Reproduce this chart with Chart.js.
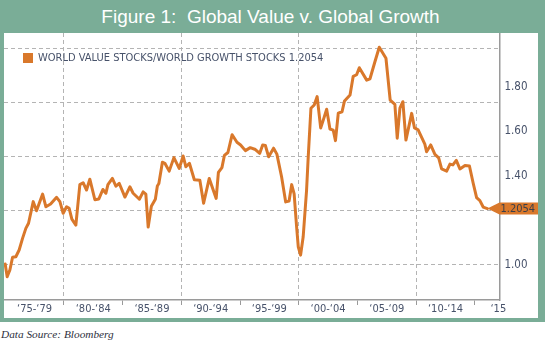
<!DOCTYPE html>
<html lang="en">
<head>
<meta charset="UTF-8">
<title>Figure 1: Global Value v. Global Growth</title>
<script src="https://cdn.jsdelivr.net/npm/chart.js"></script>
<style>
  html, body { margin: 0; padding: 0; background: #fff; }
  body { width: 545px; height: 348px; position: relative; overflow: hidden; font-family: 'Liberation Sans', Arial, sans-serif; }
  .frame { position: absolute; left: 0; top: 0; width: 545px; height: 322px; background: #7aad97; }
  .title { position: absolute; left: 0; top: 0; width: 541px; height: 33px; line-height: 33px; text-align: center; color: #fff; font-size: 19px; }
  .plot { position: absolute; left: 4px; top: 33px; width: 534px; height: 285px; background: #fff; }
  .legend { position: absolute; left: 19px; top: 20px; height: 10px; white-space: nowrap; }
  .legend .swatch { position: absolute; left: 0; top: 0; width: 10px; height: 10px; background: #d9782b; }
  .legend .text { position: absolute; left: 15px; top: -3px; font-family: 'DejaVu Sans Condensed', 'Liberation Sans Narrow', sans-serif; font-size: 11px; line-height: 16px; color: #47526a; }
  .source { position: absolute; left: 1px; top: 328px; font-family: 'Liberation Serif', 'DejaVu Serif', serif; font-style: italic; font-size: 11.3px; color: #2e3040; }
</style>
</head>
<body>
  <div class="frame">
    <div class="title">Figure 1:&nbsp; Global Value v. Global Growth</div>
    <div class="plot">
      <canvas id="chart" width="534" height="285"></canvas>
      <div class="legend"><span class="swatch"></span><span class="text" id="legend-text"></span></div>
    </div>
  </div>
  <div class="source">Data Source: Bloomberg</div>

<script>
  // Ratio valeur / croissance
  const years = [
    1975.00, 1975.17, 1975.40, 1975.63, 1975.91, 1976.19, 1976.48, 1976.76, 1976.99, 1977.39,
    1977.67, 1978.19, 1978.47, 1978.87, 1979.38, 1979.66, 1979.94, 1980.23, 1980.45, 1980.68,
    1981.02, 1981.36, 1981.64, 1981.93, 1982.21, 1982.64, 1982.98, 1983.32, 1983.58, 1983.75,
    1984.13, 1984.43, 1984.71, 1985.20, 1985.62, 1985.90, 1986.43, 1986.75, 1986.98, 1987.18,
    1987.45, 1987.79, 1987.96, 1988.09, 1988.39, 1988.60, 1988.97, 1989.37, 1989.82, 1990.16,
    1990.39, 1990.69, 1991.11, 1991.58, 1991.90, 1992.38, 1992.97, 1993.16, 1993.46, 1993.67,
    1993.97, 1994.33, 1994.74, 1995.05, 1995.46, 1995.87, 1996.31, 1996.68, 1996.93, 1997.16,
    1997.44, 1997.86, 1998.14, 1998.54, 1998.89, 1999.18, 1999.40, 1999.61, 1999.82, 1999.96,
    2000.16, 2000.38, 2000.67, 2000.81, 2001.04, 2001.32, 2001.57, 2001.87, 2002.09, 2002.38,
    2002.66, 2002.94, 2003.13, 2003.37, 2003.69, 2003.90, 2004.37, 2004.64, 2004.93, 2005.16,
    2005.79, 2006.07, 2006.49, 2006.86, 2007.43, 2007.79, 2008.19, 2008.39, 2008.62, 2008.87,
    2009.13, 2009.62, 2009.86, 2010.17, 2010.74, 2010.89, 2011.24, 2011.60, 2011.92, 2012.17,
    2012.60, 2012.88, 2013.13, 2013.42, 2013.73, 2014.16, 2014.54, 2014.86, 2015.15, 2015.43,
    2015.71, 2016.07
  ];
  const ratio = [
    1.000, 0.953, 0.978, 1.025, 1.027, 1.052, 1.095, 1.132, 1.151, 1.231,
    1.197, 1.259, 1.212, 1.222, 1.247, 1.231, 1.188, 1.212, 1.206, 1.166,
    1.144, 1.294, 1.301, 1.274, 1.314, 1.238, 1.241, 1.276, 1.262, 1.294,
    1.317, 1.288, 1.299, 1.248, 1.286, 1.262, 1.240, 1.267, 1.259, 1.137,
    1.214, 1.240, 1.289, 1.298, 1.377, 1.373, 1.344, 1.394, 1.354, 1.400,
    1.360, 1.373, 1.312, 1.310, 1.225, 1.317, 1.243, 1.339, 1.357, 1.402,
    1.413, 1.479, 1.451, 1.441, 1.420, 1.431, 1.424, 1.410, 1.441, 1.439,
    1.397, 1.429, 1.407, 1.323, 1.230, 1.233, 1.294, 1.260, 1.138, 1.064,
    1.033, 1.101, 1.274, 1.397, 1.577, 1.589, 1.620, 1.504, 1.533, 1.573,
    1.500, 1.496, 1.457, 1.559, 1.564, 1.604, 1.626, 1.695, 1.701, 1.727,
    1.681, 1.686, 1.749, 1.803, 1.762, 1.607, 1.591, 1.466, 1.577, 1.601,
    1.459, 1.558, 1.504, 1.497, 1.444, 1.416, 1.441, 1.406, 1.393, 1.352,
    1.344, 1.370, 1.367, 1.384, 1.352, 1.365, 1.363, 1.299, 1.246, 1.235,
    1.211, 1.2054
  ];

  // Axe des x : étiquettes centrées sur chaque période de 5 ans
  const xLabelYears = [1977.5, 1982.5, 1987.5, 1992.5, 1997.5, 2002.5, 2007.5, 2012.5, 2017];
  const xLabels = ['\u201875-\u201879', '\u201880-\u201884', '\u201885-\u201889', '\u201890-\u201894',
    '\u201895-\u201899', '\u201800-\u201804', '\u201805-\u201809', '\u201810-\u201814', '\u201815'];
  const xGridYears = [1980, 1990, 2000, 2010];
  const xTickYears = [1985, 1995, 2005, 2015];

  // Axe des y : lignes de grille et étiquettes (décalées comme sur l'original)
  const yGridValues = [1.0, 1.2, 1.4, 1.6, 1.8];
  const yLabelValues = [1.0, 1.4, 1.6, 1.8];

  const seriesName = 'WORLD VALUE STOCKS/WORLD GROWTH STOCKS';

  const ORANGE = '#d9782b';
  const GRID = '#b4b4b4';
  const AXIS = '#9a9a9a';
  const TEXT = '#47526a';
  const FONT = "'DejaVu Sans Condensed', 'Liberation Sans Narrow', sans-serif";

  const lastValue = ratio[ratio.length - 1];
  document.getElementById('legend-text').textContent = seriesName + ' ' + lastValue.toFixed(4);

  // Étiquette de la dernière valeur (flèche orange sur l'axe de droite)
  const lastValueTag = {
    id: 'lastValueTag',
    afterDatasetsDraw(chart) {
      const { ctx, scales } = chart;
      const meta = chart.getDatasetMeta(0);
      const pt = meta.data[meta.data.length - 1];
      const tipX = pt.x;
      const y = scales.y.getPixelForValue(lastValue);
      const boxLeft = chart.chartArea.right;
      const boxRight = chart.width;
      const h = 12;
      ctx.save();
      ctx.fillStyle = ORANGE;
      ctx.beginPath();
      ctx.moveTo(tipX, y);
      ctx.lineTo(boxLeft, y - h / 2);
      ctx.lineTo(boxRight, y - h / 2);
      ctx.lineTo(boxRight, y + h / 2);
      ctx.lineTo(boxLeft, y + h / 2);
      ctx.closePath();
      ctx.fill();
      ctx.fillStyle = '#3a3f4a';
      ctx.font = '11px ' + FONT;
      ctx.textBaseline = 'middle';
      ctx.textAlign = 'left';
      ctx.fillText(lastValue.toFixed(4), boxLeft + 1, y + 0.5);
      ctx.restore();
    }
  };

  new Chart(document.getElementById('chart'), {
    type: 'line',
    data: {
      datasets: [{
        label: seriesName,
        data: years.map((yr, i) => ({ x: yr, y: ratio[i] })),
        borderColor: ORANGE,
        borderWidth: 3,
        pointRadius: 0,
        tension: 0,
        borderJoinStyle: 'round',
        borderCapStyle: 'round',
        yAxisID: 'y'
      }]
    },
    options: {
      responsive: false,
      animation: false,
      layout: { padding: 0 },
      plugins: { legend: { display: false }, tooltip: { enabled: false } },
      scales: {
        x: {
          type: 'linear',
          min: 1974.9,
          max: 2017.1,
          afterBuildTicks: (s) => {
            s.ticks = [...xGridYears, ...xTickYears, ...xLabelYears]
              .sort((a, b) => a - b)
              .map((v) => ({ value: v }));
          },
          afterFit: (s) => { s.height = 18; s.paddingLeft = 0; s.paddingRight = 0; },
          grid: {
            color: (c) => (c.tick && xGridYears.includes(c.tick.value) ? GRID : 'rgba(0,0,0,0)'),
            tickColor: (c) => (c.tick && (xGridYears.includes(c.tick.value) || xTickYears.includes(c.tick.value)) ? AXIS : 'rgba(0,0,0,0)'),
            tickLength: 5,
            lineWidth: 1
          },
          border: { display: true, color: AXIS, width: 1.5, dash: [4, 3] },
          ticks: {
            autoSkip: false,
            maxRotation: 0,
            padding: -2,
            color: TEXT,
            font: { family: FONT, size: 11 },
            callback: (v) => {
              const i = xLabelYears.indexOf(v);
              return i < 0 ? '' : xLabels[i];
            }
          }
        },
        y: {
          type: 'linear',
          position: 'left',
          min: 0.8667,
          max: 1.8556,
          afterBuildTicks: (s) => { s.ticks = yGridValues.map((v) => ({ value: v })); },
          afterFit: (s) => { s.width = 0; s.paddingTop = 0; s.paddingBottom = 0; },
          ticks: { display: false },
          grid: { color: GRID, drawTicks: false, lineWidth: 1 },
          border: { display: false, dash: [4, 3] }
        },
        yl: {
          type: 'linear',
          position: 'right',
          min: 0.8427,
          max: 2.0427,
          afterBuildTicks: (s) => { s.ticks = yLabelValues.map((v) => ({ value: v })); },
          afterFit: (s) => { s.width = 38.5; s.paddingTop = 0; s.paddingBottom = 0; },
          grid: { display: false, drawTicks: false },
          border: { display: true, color: AXIS, width: 1.5 },
          ticks: {
            padding: 5,
            color: TEXT,
            font: { family: FONT, size: 11.5 },
            callback: (v) => v.toFixed(2)
          }
        }
      }
    },
    plugins: [lastValueTag]
  });
</script>
</body>
</html>
